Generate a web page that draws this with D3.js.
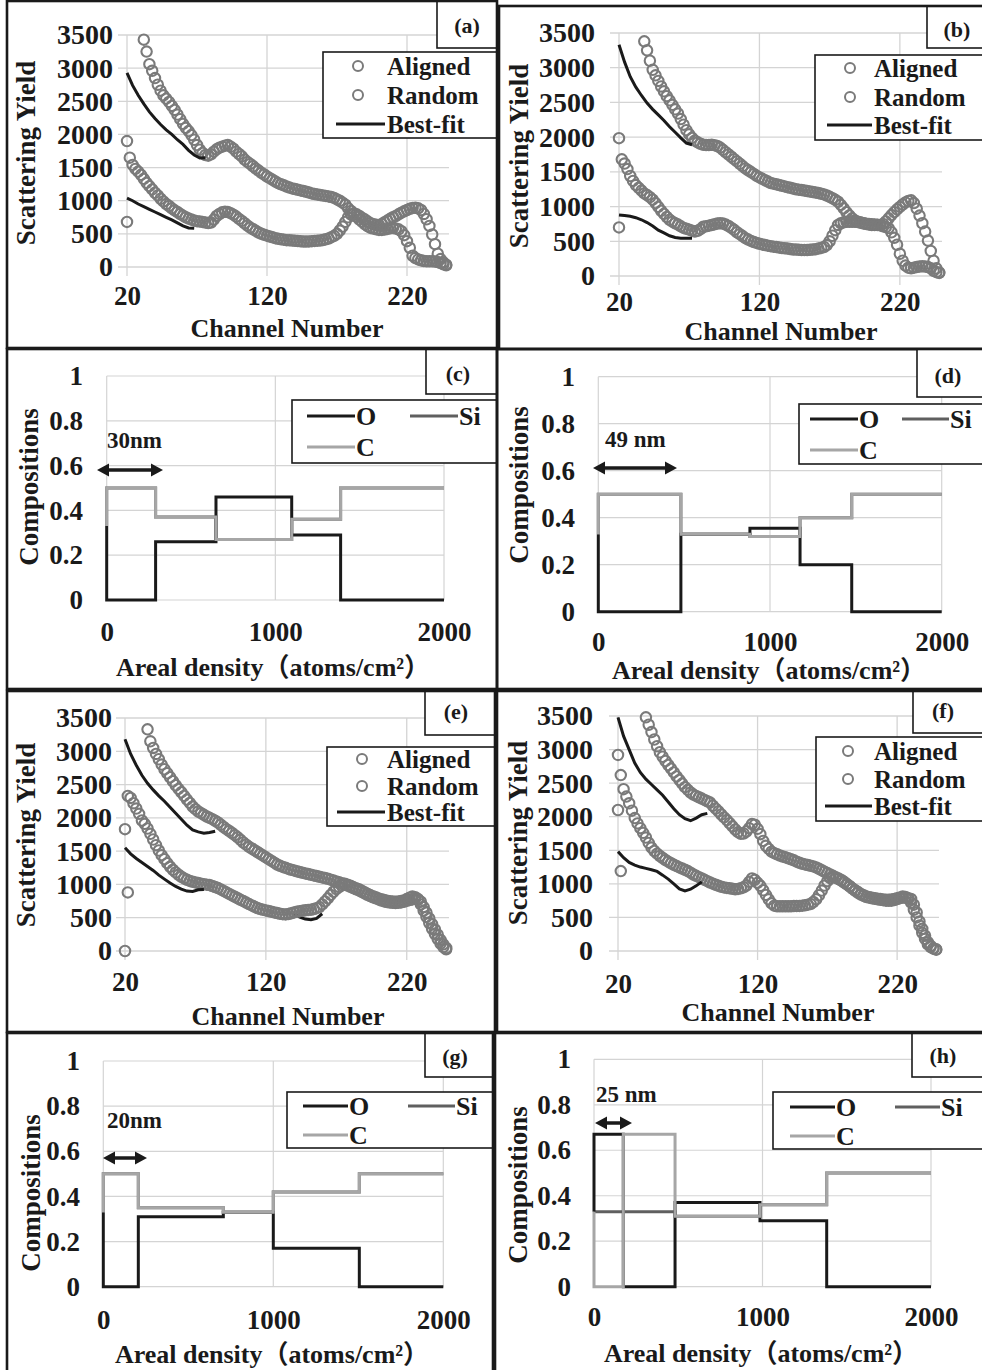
<!DOCTYPE html>
<html>
<head>
<meta charset="utf-8">
<script src="https://cdn.jsdelivr.net/npm/d3@7"></script>
<style>
  body { margin: 0; background: #fff; }
  svg text { font-family: "Liberation Serif", "Times New Roman", "Noto Sans CJK JP", serif; font-weight: bold; fill: #1a1a1a; }
</style>
</head>
<body>
<svg id="fig" width="982" height="1370"></svg>
<script>
// ---------- data ----------
// channel grid shared by every RBS spectrum (every 2nd channel)
var channels = [20,22,24,26,28,30,32,34,36,38,
  40,42,44,46,48,50,52,54,56,58,
  60,62,64,66,68,70,72,74,76,78,
  80,82,84,86,88,90,92,94,96,98,
  100,102,104,106,108,110,112,114,116,118,
  120,122,124,126,128,130,132,134,136,138,
  140,142,144,146,148,150,152,154,156,158,
  160,162,164,166,168,170,172,174,176,178,
  180,182,184,186,188,190,192,194,196,198,
  200,202,204,206,208,210,212,214,216,218,
  220,222,224,226,228,230,232,234,236,238,
  240,242,244,246,248];

// (a)
var aAligned = [1900,1650,1540,1480,1440,1390,1330,1270,1220,1170,
  1120,1080,1030,990,950,920,885,855,830,800,
  775,750,730,715,700,692,686,680,670,662,
  670,715,770,800,825,832,830,812,790,760,
  725,695,660,625,595,570,545,520,500,487,
  473,460,447,435,425,418,412,405,402,398,
  395,392,388,385,385,386,390,393,397,400,
  407,417,430,450,470,500,550,610,680,750,
  790,810,795,770,740,715,685,660,645,637,
  630,650,675,700,727,750,770,795,820,840,
  860,877,890,892,885,860,800,720,620,490,
  345,200,120,70,35];
var aRandom = [680,null,null,null,null,null,3430,3250,3060,2960,
  2850,2750,2660,2590,2540,2490,2430,2370,2300,2230,
  2160,2100,2050,1990,1920,1840,1770,1720,1690,1680,
  1700,1740,1775,1800,1815,1830,1840,1815,1785,1740,
  1705,1670,1620,1585,1555,1520,1485,1455,1420,1395,
  1365,1340,1315,1290,1265,1248,1232,1215,1198,1185,
  1175,1165,1155,1145,1135,1123,1110,1100,1092,1085,
  1078,1072,1065,1055,1042,1020,1000,970,940,885,
  845,800,755,715,680,645,615,590,580,570,
  560,560,565,575,585,590,580,568,540,480,
  390,290,170,135,115,100,90,85,85,85,
  82,75,60,42,25];
// (b)
var bAligned = [1985,1680,1620,1540,1440,1370,1310,1270,1230,1190,
  1165,1135,1100,1050,995,940,895,850,810,783,
  760,740,715,693,680,667,653,640,650,675,
  710,717,725,735,745,755,760,755,740,720,
  693,665,630,603,575,545,525,505,490,477,
  465,455,445,437,430,423,417,410,403,398,
  395,388,383,380,377,375,375,375,377,380,
  387,395,405,418,445,500,580,660,735,760,
  773,780,780,780,780,777,770,760,750,742,
  735,735,735,735,750,785,830,877,920,960,
  995,1030,1060,1080,1090,1050,970,870,760,640,
  510,360,220,110,50];
var bRandom = [700,null,null,null,null,null,null,null,null,3380,
  3250,3100,2970,2890,2810,2730,2660,2590,2530,2465,
  2400,2340,2260,2180,2100,2040,1990,1950,1925,1905,
  1890,1887,1887,1890,1885,1872,1850,1817,1783,1750,
  1717,1683,1650,1617,1583,1550,1523,1497,1470,1443,
  1420,1400,1380,1360,1340,1330,1320,1310,1300,1290,
  1280,1270,1260,1250,1243,1237,1230,1223,1217,1210,
  1203,1195,1185,1175,1160,1140,1120,1097,1070,1025,
  975,920,873,830,800,783,770,760,753,748,
  745,742,737,730,717,703,690,630,550,450,
  320,220,150,120,112,120,130,137,140,137,
  128,110,75,55,45];
// (e)
var eAligned = [1830,2330,2300,2220,2140,2060,1960,1910,1840,1760,
  1675,1590,1510,1440,1380,1320,1265,1220,1180,1145,
  1115,1090,1070,1053,1040,1030,1020,1010,1003,997,
  990,977,962,945,925,903,880,857,835,815,
  792,768,750,727,705,685,665,645,630,620,
  610,600,590,580,570,560,553,550,555,567,
  580,590,598,605,612,617,620,630,643,660,
  700,745,790,843,890,930,960,988,1010,997,
  980,960,943,927,905,882,860,840,823,807,
  790,777,765,755,748,743,740,743,750,760,
  780,800,820,807,770,700,607,513,420,333,
  255,180,113,60,25];
var eRandom = [0,880,null,null,null,null,null,null,3330,3150,
  3050,2960,2880,2800,2730,2670,2610,2550,2490,2435,
  2385,2330,2275,2225,2170,2130,2095,2070,2045,2020,
  2000,1980,1957,1930,1897,1863,1830,1803,1773,1740,
  1707,1670,1630,1597,1565,1540,1513,1487,1460,1433,
  1407,1380,1353,1327,1300,1280,1263,1250,1233,1220,
  1210,1197,1185,1175,1165,1155,1145,1135,1125,1115,
  1105,1095,1085,1072,1058,1045,1032,1017,1000,983,
  965,945,928,910,890,867,845,825,808,792,
  775,758,745,735,728,723,720,723,730,740,
  753,765,775,785,780,740,660,577,490,403,
  323,245,168,100,45];
// (f)
var fAligned = [2920,2620,2410,2300,2200,2090,1980,1900,1830,1760,
  1690,1610,1540,1490,1450,1415,1385,1355,1330,1307,
  1285,1265,1245,1227,1210,1190,1167,1140,1120,1100,
  1080,1060,1040,1020,1003,987,970,957,947,940,
  933,927,920,925,935,950,975,1030,1080,1060,
  1015,970,905,835,770,710,675,665,665,665,
  665,665,667,670,670,672,675,680,690,700,
  730,770,830,900,975,1040,1085,1100,1090,1070,
  1047,1020,993,965,930,903,877,850,830,813,
  800,793,787,780,773,768,765,765,767,775,
  785,797,810,805,780,720,613,500,380,270,
  180,100,60,35,20];
var fRandom = [2100,1190,null,null,null,null,null,null,null,null,
  3480,3370,3260,3150,3050,2960,2893,2830,2770,2717,
  2660,2600,2547,2493,2440,2400,2360,2330,2310,2290,
  2270,2250,2230,2210,2163,2120,2080,2033,1990,1950,
  1903,1857,1810,1770,1745,1750,1780,1830,1890,1880,
  1820,1740,1640,1567,1520,1480,1457,1440,1423,1408,
  1395,1382,1367,1350,1330,1313,1300,1290,1280,1270,
  1260,1245,1225,1202,1180,1160,1140,1120,1100,1080,
  1057,1030,997,963,930,897,867,840,820,803,
  795,785,777,770,763,757,750,747,750,760,
  773,787,795,793,787,775,690,573,440,330,
  227,130,77,40,25];

// best-fit curves (only the part that is not hidden by the data)
var fitChannels = [20,24,28,32,36,40,44,48,52,56,60,64,68,72,76,80,84];
var aFitRandom  = [2930,2740,2590,2460,2340,2240,2150,2070,2000,1920,1850,1760,1690,1645,1650,null,null];
var aFitAligned = [1040,1000,950,910,870,830,790,750,710,665,620,590,585,null,null,null,null];
var bFitRandom  = [3330,3080,2870,2720,2600,2490,2400,2320,2240,2150,2070,1990,1915,1890,null,null,null];
var bFitAligned = [880,870,860,840,810,770,720,660,620,580,555,545,545,545,null,null,null];
var eFitRandom  = [3180,2960,2790,2640,2520,2420,2330,2250,2160,2070,1980,1890,1820,1790,1770,1780,1800];
var eFitAligned = [1550,1460,1390,1330,1270,1210,1140,1080,1020,970,930,900,895,920,925,null,null];
var fFitRandom  = [3480,3200,3000,2800,2660,2560,2480,2400,2320,2220,2120,2030,1970,1940,1980,2030,2050];
var fFitAligned = [1480,1390,1320,1280,1250,1230,1210,1185,1130,1070,1000,925,895,920,970,1030,null];
var eDipChannels = [140,144,148,152,156,160];
var eDipFit = [560,510,480,470,490,560];

// composition depth profiles: layer boundaries (areal density) and fractions per layer
var compStart = 0.33;
var cBounds = [0,290,648,1097,1387,2000];
var cO  = [0,0.26,0.46,0.29,0];
var cSi = [0.5,0.37,0.27,0.36,0.5];
var cC  = [0.5,0.37,0.27,0.36,0.5];
var dBounds = [0,481,883,1175,1476,2000];
var dO  = [0,0.33,0.355,0.2,0];
var dSi = [0.5,0.33,0.32,0.4,0.5];
var dC  = [0.5,0.33,0.32,0.4,0.5];
var gBounds = [0,206,706,1000,1506,2000];
var gO  = [0,0.31,0.33,0.17,0];
var gSi = [0.5,0.35,0.33,0.42,0.5];
var gC  = [0.5,0.35,0.33,0.42,0.5];
var hBounds = [0,174,481,985,1381,2000];
var hO  = [0.67,0,0.37,0.29,0];
var hSi = [0.33,0.33,0.31,0.36,0.5];
var hC  = [0,0.67,0.31,0.36,0.5];

// ticks and labels
var yieldTicks = [0,500,1000,1500,2000,2500,3000,3500];
var channelTicks = [20,120,220];
var compTicks = [0,0.2,0.4,0.6,0.8,1];
var densityTicks = [0,1000,2000];
var scatterNames = ["Aligned","Random","Best-fit"];
var elementNames = ["O","Si","C"];
var elementColors = ["#1a1a1a","#5f5f5f","#a6a6a6"];

// ---------- layout ----------
var scatterPanels = [
  {tag:"(a)", frame:[7,1,497,348], plot:[127,449,267,35], aligned:aAligned, random:aRandom,
   fits:[aFitRandom,aFitAligned], labelBox:[437,1,497,48], labelPos:[467,33],
   legBox:[323,52,497,138], legMark:358, legLine:[336,385], legText:387, legRows:[66,95,124],
   yTickX:113, xTickBase:305, xTitle:[287,337], yTitle:[35,153]},
  {tag:"(b)", frame:[499,6,985,349], plot:[619,942,276,33], aligned:bAligned, random:bRandom,
   fits:[bFitRandom,bFitAligned], labelBox:[927,6,985,48], labelPos:[957,37],
   legBox:[815,55,985,140], legMark:850, legLine:[827,872], legText:874, legRows:[68,97,125],
   yTickX:595, xTickBase:311, xTitle:[781,340], yTitle:[528,156]},
  {tag:"(e)", frame:[7,691,495,1032], plot:[125,449,951,718], aligned:eAligned, random:eRandom,
   fits:[eFitRandom,eFitAligned], labelBox:[425,691,495,735], labelPos:[456,719],
   legBox:[327,747,495,826], legMark:362, legLine:[337,385], legText:387, legRows:[759,786,812],
   yTickX:112, xTickBase:991, xTitle:[288,1025], yTitle:[35,835]},
  {tag:"(f)", frame:[497,691,985,1032], plot:[618,939,951,716], aligned:fAligned, random:fRandom,
   fits:[fFitRandom,fFitAligned], labelBox:[913,691,985,733], labelPos:[943,718],
   legBox:[816,737,985,821], legMark:848, legLine:[825,872], legText:874, legRows:[751,779,806],
   yTickX:593, xTickBase:993, xTitle:[778,1021], yTitle:[527,833]}
];

var compPanels = [
  {tag:"(c)", frame:[7,349,497,689], plot:[106.7,444,600,376], bounds:cBounds, el:[cO,cSi,cC],
   labelBox:[426,349,497,394], labelPos:[458,381], legBox:[292,400,497,463],
   legLines:[[307,355,416],[410,458,416],[307,355,447]], yTickX:83, xTickBase:641,
   xTitle:[273,676], yTitle:[38,487], arrow:[97,163,470], note:"30nm", notePos:[107,448]},
  {tag:"(d)", frame:[497,349,985,689], plot:[598.3,941.7,611.7,376.7], bounds:dBounds, el:[dO,dSi,dC],
   labelBox:[917,349,985,397], labelPos:[948,383], legBox:[799,404,985,464],
   legLines:[[810,858,419],[902,949,419],[810,858,450]], yTickX:575, xTickBase:651,
   xTitle:[769,679], yTitle:[528,485], arrow:[593,677,468], note:"49 nm", notePos:[605,447]},
  {tag:"(g)", frame:[7,1033,493,1372], plot:[103.3,443.3,1286.7,1061], bounds:gBounds, el:[gO,gSi,gC],
   labelBox:[425,1033,493,1077], labelPos:[455,1064], legBox:[287,1092,493,1148],
   legLines:[[303,348,1106],[408,455,1106],[303,348,1135]], yTickX:80, xTickBase:1329,
   xTitle:[272,1363], yTitle:[40,1193], arrow:[103,147,1158], note:"20nm", notePos:[107,1128]},
  {tag:"(h)", frame:[495,1033,985,1372], plot:[594,931,1286.7,1059.3], bounds:hBounds, el:[hO,hSi,hC],
   labelBox:[912,1033,985,1077], labelPos:[943,1063], legBox:[773,1092,985,1149],
   legLines:[[790,835,1107],[895,940,1107],[790,835,1136]], yTickX:571, xTickBase:1326,
   xTitle:[761,1362], yTitle:[527,1185], arrow:[595,632,1123], note:"25 nm", notePos:[596,1102]}
];

var svg = d3.select("#fig");
var GRID = "#d4d4d4";
var INK = "#1a1a1a";
var DOT = "#7a7a7a";

function box(b, w, fill) {
  svg.append("rect")
    .attr("x", b[0]).attr("y", b[1])
    .attr("width", b[2] - b[0]).attr("height", b[3] - b[1])
    .attr("fill", fill || "none")
    .attr("stroke", INK).attr("stroke-width", w);
}

function styleAxis(ax, size) {
  ax.attr("font-size", null).attr("font-family", null);
  ax.select(".domain").remove();
  ax.selectAll("text").style("font-size", size + "px");
}

function yTitle(pos, txt) {
  svg.append("text")
    .attr("transform", "translate(" + pos[0] + "," + pos[1] + ") rotate(-90)")
    .attr("text-anchor", "middle")
    .style("font-size", "27px")
    .text(txt);
}

function xTitle(pos, txt) {
  svg.append("text")
    .attr("x", pos[0]).attr("y", pos[1])
    .attr("text-anchor", "middle")
    .style("font-size", "26px")
    .text(txt);
}

function panelLabel(p) {
  box(p.labelBox, 1.6, "#fff");
  svg.append("text")
    .attr("x", p.labelPos[0]).attr("y", p.labelPos[1])
    .attr("text-anchor", "middle")
    .style("font-size", "22px")
    .text(p.tag);
}

// ---------- RBS spectra ----------
function drawScatter(p) {
  var x = d3.scaleLinear().domain([20, 250]).range([p.plot[0], p.plot[1]]);
  var y = d3.scaleLinear().domain([0, 3500]).range([p.plot[2], p.plot[3]]);
  var g = svg.append("g");

  // gridlines (with the short outside ticks Excel draws)
  g.selectAll("line.hg").data(yieldTicks).join("line").attr("class", "hg")
    .attr("x1", x(20) - 9).attr("x2", x(250))
    .attr("y1", function(d) { return y(d); }).attr("y2", function(d) { return y(d); })
    .attr("stroke", GRID).attr("stroke-width", 1.3);
  g.selectAll("line.vg").data(channelTicks).join("line").attr("class", "vg")
    .attr("x1", function(d) { return x(d); }).attr("x2", function(d) { return x(d); })
    .attr("y1", y(3500)).attr("y2", y(0) + 9)
    .attr("stroke", GRID).attr("stroke-width", 1.3);

  var ya = g.append("g").attr("transform", "translate(" + x(20) + ",0)")
    .call(d3.axisLeft(y).tickValues(yieldTicks).tickSize(0)
      .tickPadding(x(20) - p.yTickX).tickFormat(d3.format("d")));
  styleAxis(ya, 28);
  var xa = g.append("g").attr("transform", "translate(0," + y(0) + ")")
    .call(d3.axisBottom(x).tickValues(channelTicks).tickSize(0));
  styleAxis(xa, 27);
  xa.selectAll("text").attr("dy", null).attr("y", p.xTickBase - y(0));

  // data circles
  [p.aligned, p.random].forEach(function(vals) {
    var pts = channels.map(function(c, i) { return {c: c, v: vals[i]}; })
      .filter(function(d) { return d.v != null; });
    g.append("g").selectAll("circle").data(pts).join("circle")
      .attr("cx", function(d) { return x(d.c); })
      .attr("cy", function(d) { return y(d.v); })
      .attr("r", 5.2)
      .attr("fill", "none").attr("stroke", DOT).attr("stroke-width", 2.1);
  });

  // best-fit
  var line = d3.line()
    .defined(function(d) { return d.v != null; })
    .x(function(d) { return x(d.c); })
    .y(function(d) { return y(d.v); });
  p.fits.forEach(function(vals) {
    var pts = fitChannels.map(function(c, i) { return {c: c, v: vals[i]}; });
    g.append("path").attr("d", line(pts))
      .attr("fill", "none").attr("stroke", INK).attr("stroke-width", 3);
  });
  if (p.tag === "(e)") {
    var dip = eDipChannels.map(function(c, i) { return {c: c, v: eDipFit[i]}; });
    g.insert("path", "g").attr("d", line(dip))
      .attr("fill", "none").attr("stroke", INK).attr("stroke-width", 3);
  }

  // legend
  box(p.legBox, 1.6, "#fff");
  [0, 1].forEach(function(i) {
    svg.append("circle").attr("cx", p.legMark).attr("cy", p.legRows[i]).attr("r", 5)
      .attr("fill", "none").attr("stroke", DOT).attr("stroke-width", 2);
  });
  svg.append("line").attr("x1", p.legLine[0]).attr("x2", p.legLine[1])
    .attr("y1", p.legRows[2]).attr("y2", p.legRows[2])
    .attr("stroke", INK).attr("stroke-width", 3);
  scatterNames.forEach(function(n, i) {
    svg.append("text").attr("x", p.legText).attr("y", p.legRows[i]).attr("dy", "0.35em")
      .style("font-size", "25px").text(n);
  });

  panelLabel(p);
  xTitle(p.xTitle, "Channel Number");
  yTitle(p.yTitle, "Scattering Yield");
  box(p.frame, 2.6);
}

// ---------- composition profiles ----------
function stepPoints(bounds, vals) {
  var pts = [{x: 0, v: compStart}];
  vals.forEach(function(v, i) {
    pts.push({x: bounds[i], v: v});
    pts.push({x: bounds[i + 1], v: v});
  });
  return pts;
}

function dblArrow(a) {
  var h = 12, w = 6.5, yy = a[2];
  svg.append("line").attr("x1", a[0] + h - 2).attr("x2", a[1] - h + 2)
    .attr("y1", yy).attr("y2", yy).attr("stroke", INK).attr("stroke-width", 3.5);
  svg.append("path")
    .attr("d", "M" + a[0] + "," + yy + "L" + (a[0] + h) + "," + (yy - w) + "L" + (a[0] + h) + "," + (yy + w) + "Z" +
               "M" + a[1] + "," + yy + "L" + (a[1] - h) + "," + (yy - w) + "L" + (a[1] - h) + "," + (yy + w) + "Z")
    .attr("fill", INK);
}

function drawComp(p) {
  var x = d3.scaleLinear().domain([0, 2000]).range([p.plot[0], p.plot[1]]);
  var y = d3.scaleLinear().domain([0, 1]).range([p.plot[2], p.plot[3]]);
  var g = svg.append("g");

  g.selectAll("line.hg").data(compTicks).join("line").attr("class", "hg")
    .attr("x1", x(0)).attr("x2", x(2000))
    .attr("y1", function(d) { return y(d); }).attr("y2", function(d) { return y(d); })
    .attr("stroke", GRID).attr("stroke-width", 1.2);
  g.selectAll("line.vg").data(densityTicks).join("line").attr("class", "vg")
    .attr("x1", function(d) { return x(d); }).attr("x2", function(d) { return x(d); })
    .attr("y1", y(1)).attr("y2", y(0))
    .attr("stroke", GRID).attr("stroke-width", 1.2);

  var ya = g.append("g").attr("transform", "translate(" + x(0) + ",0)")
    .call(d3.axisLeft(y).tickValues(compTicks).tickSize(0).tickPadding(x(0) - p.yTickX)
      .tickFormat(function(d) { return d3.format("")(d); }));
  styleAxis(ya, 27);
  var xa = g.append("g").attr("transform", "translate(0," + y(0) + ")")
    .call(d3.axisBottom(x).tickValues(densityTicks).tickSize(0).tickFormat(d3.format("d")));
  styleAxis(xa, 27);
  xa.selectAll("text").attr("dy", null).attr("y", p.xTickBase - y(0));

  var line = d3.line()
    .x(function(d) { return x(d.x); })
    .y(function(d) { return y(d.v); });
  // draw Si, then O, then C on top
  [1, 0, 2].forEach(function(k) {
    g.append("path").attr("d", line(stepPoints(p.bounds, p.el[k])))
      .attr("fill", "none").attr("stroke", elementColors[k]).attr("stroke-width", 3)
      .attr("stroke-linejoin", "miter");
  });

  // thickness annotation
  dblArrow(p.arrow);
  svg.append("text").attr("x", p.notePos[0]).attr("y", p.notePos[1])
    .style("font-size", "23px").text(p.note);

  // legend
  box(p.legBox, 1.6, "#fff");
  elementNames.forEach(function(n, i) {
    var l = p.legLines[i];
    svg.append("line").attr("x1", l[0]).attr("x2", l[1]).attr("y1", l[2]).attr("y2", l[2])
      .attr("stroke", elementColors[i]).attr("stroke-width", 3);
    svg.append("text").attr("x", l[1] + 1).attr("y", l[2]).attr("dy", "0.35em")
      .style("font-size", "26px").text(n);
  });

  panelLabel(p);
  xTitle(p.xTitle, "Areal density（atoms/cm²）");
  yTitle(p.yTitle, "Compositions");
  box(p.frame, 2.6);
}

scatterPanels.forEach(drawScatter);
compPanels.forEach(drawComp);
</script>
</body>
</html>
